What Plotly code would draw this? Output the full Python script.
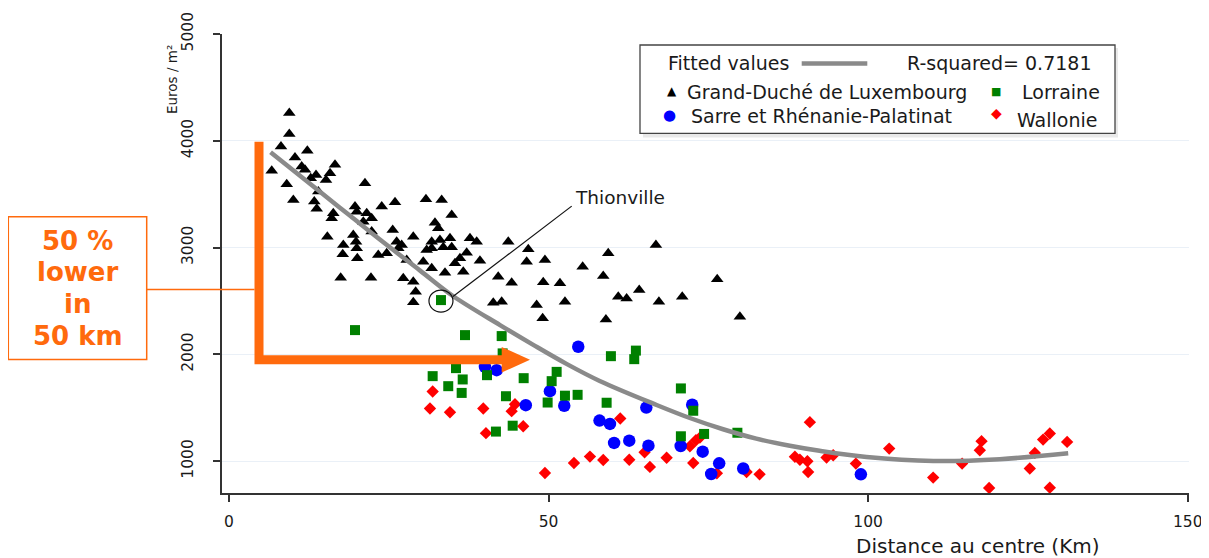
import plotly.graph_objects as go

# ---------------- data ----------------
# Grand-Duché de Luxembourg (black triangles)
lux_x = [9.43, 9.43, 8.13, 12.25, 10.32, 6.68, 11.37, 11.89, 16.58, 15.80,
         13.61, 12.78, 15.17, 9.03, 21.27, 13.97, 10.06, 13.34, 13.72, 19.71,
         23.89, 25.97, 16.31, 16.06, 19.98, 21.54, 22.32, 21.01, 15.38, 19.44,
         19.87, 25.61, 22.32, 26.23, 27.01, 28.83, 17.88, 17.79, 19.98, 20.07,
         23.35, 24.67, 26.48, 27.80, 17.47, 22.21, 27.26, 28.83, 29.20, 28.83,
         30.81, 33.27, 34.84, 32.22, 32.74, 31.71, 33.00, 34.57, 37.70, 38.75,
         30.92, 31.71, 33.52, 34.84, 43.69, 30.39, 37.18, 39.26, 36.13, 35.35,
         31.71, 33.79, 36.65, 42.12, 44.22, 41.34, 42.66,
         46.82, 46.57, 49.43, 55.33, 49.16, 51.78, 48.13, 52.56, 49.07, 59.33,
         66.79, 58.55, 76.38, 64.18, 60.90, 62.21, 67.26, 70.91, 58.97, 79.93]
lux_y = [4260, 4063, 3947, 3906, 3843, 3719, 3759, 3728, 3775, 3697,
         3681, 3650, 3634, 3594, 3603, 3525, 3447, 3431, 3363, 3384,
         3384, 3425, 3322, 3275, 3337, 3322, 3275, 3243, 3103, 3119,
         3056, 3166, 3150, 3056, 3025, 3103, 3025, 2938, 2994, 2900,
         2931, 2947, 2994, 2884, 2718, 2718, 2713, 2681, 2587, 2488,
         3453, 3447, 3306, 3234, 3182, 3056, 3072, 3088, 3088, 3056,
         2978, 2994, 3003, 3003, 3056, 2868, 2953, 2878, 2900, 2853,
         2807, 2765, 2775, 2728, 2672, 2484, 2493,
         2985, 2868, 2884, 2822, 2675, 2666, 2463, 2493, 2338, 2947,
         3025, 2734, 2703, 2603, 2540, 2525, 2493, 2540, 2328, 2353]

# Lorraine (green squares) - index 1 is Thionville
lor_x = [19.71, 33.16, 36.92, 42.66, 42.81, 31.86, 35.51, 34.30, 36.56, 36.40,
         40.36, 46.10, 51.26, 50.48, 43.33, 52.56, 54.54, 49.85, 44.38, 41.76,
         59.08, 59.75, 63.66, 63.40, 70.70, 72.63, 70.70, 74.33, 79.54]
lor_y = [2228, 2509, 2181, 2172, 2010, 1797, 1872, 1703, 1766, 1640,
         1806, 1778, 1837, 1750, 1609, 1614, 1622, 1550, 1333, 1278,
         1548, 1984, 2036, 1956, 1682, 1473, 1234, 1256, 1267]
thionville_index = 1

# Sarre et Rhénanie-Palatinat (blue circles)
sar_x = [54.64, 40.04, 41.87, 46.43, 50.21, 52.45, 57.97, 59.60, 65.29, 72.47,
         60.25, 62.62, 65.62, 70.67, 74.11, 76.69, 75.44, 80.45, 98.86]
sar_y = [2072, 1884, 1853, 1525, 1656, 1520, 1381, 1350, 1503, 1529,
         1172, 1193, 1146, 1143, 1090, 981, 881, 932, 878]

# Wallonie (red diamonds)
wal_x = [31.86, 31.44, 34.57, 39.78, 44.74, 44.22, 46.03, 40.20, 49.43, 53.97,
         56.47, 58.55, 61.21, 62.62, 65.02, 65.85, 68.47, 72.11, 73.05, 73.67,
         72.63, 76.33, 80.98, 83.01, 90.88, 88.54, 89.32, 90.49, 90.61, 93.49,
         94.53, 98.08, 103.29, 110.17, 114.70, 117.74, 117.47, 118.93, 125.29, 126.08,
         127.37, 128.42, 131.13, 128.42]
wal_y = [1653, 1494, 1459, 1494, 1534, 1469, 1328, 1263, 890, 984,
         1044, 1012, 1400, 1014, 1084, 947, 1033, 1141, 1197, 1222,
         984, 888, 900, 878, 1366, 1042, 1014, 1000, 900, 1035,
         1056, 978, 1119, 847, 978, 1188, 1103, 750, 932, 1078,
         1203, 1260, 1181, 753]

# Fitted values (grey curve)
fit_x = [6.5, 13.7, 18.9, 24.1, 29.9, 35.1, 42.4, 47.6, 52.8, 58.0,
         66.9, 72.1, 77.3, 82.5, 87.75, 92.4, 99.75, 110.2, 120.6, 131.3]
fit_y = [3894, 3548, 3300, 3052, 2785, 2545, 2275, 2090, 1912, 1752,
         1527, 1405, 1300, 1212, 1145, 1098, 1040, 1003, 1020, 1075]

x_ticks = [0, 50, 100, 150]
y_ticks = [1000, 2000, 3000, 4000, 5000]

series_names = ["Grand-Duché de Luxembourg", "Lorraine",
                "Sarre et Rhénanie-Palatinat", "Wallonie"]
fit_name = "Fitted values"
r2_text = "R-squared= 0.7181"
note_lines = ["50 %", "lower", "in", "50 km"]

# ---------------- layout geometry (screen pixels) ----------------
OFF = 8                      # default page margin around the figure
SL, ST, SR, SB = 222, 34, 1189, 492.7   # plot area on screen
FW, FH = 1201, 550           # figure size
PW, PH = SR - SL, SB - ST
X_RANGE = [-1.1, 150.2]
Y_RANGE = [703, 5000]
FONT = "DejaVu Sans"
ORANGE = "#FF6A0D"
TXT = "#1a1a1a"


def px(X):  # screen pixel x -> paper
    return (X - SL) / PW


def py(Y):  # screen pixel y -> paper
    return (SB - Y) / PH


def d2px_x(x):
    return SL + (x - X_RANGE[0]) / (X_RANGE[1] - X_RANGE[0]) * PW


def d2px_y(y):
    return SB - (y - Y_RANGE[0]) / (Y_RANGE[1] - Y_RANGE[0]) * PH


fig = go.Figure()

fig.add_trace(go.Scatter(x=lux_x, y=lux_y, mode="markers", name=series_names[0],
                         marker=dict(symbol="triangle-up", size=11, color="#000000",
                                     line=dict(width=0))))
fig.add_trace(go.Scatter(x=wal_x, y=wal_y, mode="markers", name=series_names[3],
                         marker=dict(symbol="diamond", size=9.5, color="#FF0000",
                                     line=dict(width=0))))
fig.add_trace(go.Scatter(x=sar_x, y=sar_y, mode="markers", name=series_names[2],
                         marker=dict(symbol="circle", size=12.5, color="#0000FF",
                                     line=dict(width=0))))
fig.add_trace(go.Scatter(x=lor_x, y=lor_y, mode="markers", name=series_names[1],
                         marker=dict(symbol="square", size=10, color="#008000",
                                     line=dict(width=0))))
fig.add_trace(go.Scatter(x=fit_x, y=fit_y, mode="lines", name=fit_name,
                         line=dict(color="#8a8a8a", width=4.5, shape="spline",
                                   smoothing=1.0)))

shapes = []
annotations = []

# ---- legend box ----
shapes.append(dict(type="rect", xref="paper", yref="paper",
                   x0=px(643), x1=px(1118), y0=py(48), y1=py(137.5),
                   line=dict(width=0), fillcolor="#e9e9e9", layer="above"))
shapes.append(dict(type="rect", xref="paper", yref="paper",
                   x0=px(640), x1=px(1115), y0=py(45), y1=py(133.3),
                   line=dict(color="#444444", width=1.3), fillcolor="white",
                   layer="above"))
shapes.append(dict(type="line", xref="paper", yref="paper",
                   x0=px(801.7), x1=px(867.3), y0=py(63.5), y1=py(63.5),
                   line=dict(color="#8a8a8a", width=4.5)))


def txt(text, X, Y, size, color=TXT, xanchor="left", bold=False, angle=0):
    annotations.append(dict(
        text=("<b>%s</b>" % text) if bold else text,
        xref="paper", yref="paper", x=px(X), y=py(Y),
        xanchor=xanchor, yanchor="middle", showarrow=False,
        textangle=angle,
        font=dict(family=FONT, size=size, color=color)))


LEG = 19
txt(fit_name, 666, 63.3, LEG)
txt(r2_text, 905, 63.3, LEG)
txt("\u25B2", 671.7, 91.0, 12, color="#000000", xanchor="center")
txt(series_names[0], 685, 91.7, LEG)
txt("\u25A0", 995.7, 91.0, 11, color="#008000", xanchor="center")
txt(series_names[1], 1020, 91.7, LEG)
txt("\u25CF", 669.3, 114.5, 15, color="#0000FF", xanchor="center")
txt(series_names[2], 689.3, 115.5, LEG)
txt("\u25C6", 996.7, 113.0, 14, color="#FF0000", xanchor="center")
txt(series_names[3], 1015, 120.0, LEG)

# ---- axis titles ----
txt("Euros / m\u00b2", 172, 80, 13.5, xanchor="center", angle=-90)
txt("Distance au centre (Km)", 977.5, 546, 20, xanchor="center")

# ---- Thionville callout ----
tx = d2px_x(lor_x[thionville_index])
ty = d2px_y(lor_y[thionville_index]) + 1
shapes.append(dict(type="circle", xref="paper", yref="paper",
                   x0=px(tx - 12), x1=px(tx + 12), y0=py(ty + 11), y1=py(ty - 11),
                   line=dict(color="#111111", width=1.2)))
shapes.append(dict(type="line", xref="paper", yref="paper",
                   x0=px(tx + 12), y0=py(ty - 4.5), x1=px(571.7), y1=py(206),
                   line=dict(color="#111111", width=1.2)))
txt("Thionville", 573, 197, 18.5)

# ---- orange L arrow ----
path = ("M {a},{b} L {c},{b} L {c},{d} L {e},{d} L {e},{f} L {g},{h} "
        "L {e},{i} L {e},{j} L {a},{j} Z").format(
    a=px(254.5), b=py(141.7), c=px(263.5), d=py(355), e=px(501.7),
    f=py(346.7), g=px(530), h=py(359.5), i=py(372.3), j=py(364))
shapes.append(dict(type="path", xref="paper", yref="paper", path=path,
                   fillcolor=ORANGE, line=dict(width=0), layer="above"))
# note box and connector
shapes.append(dict(type="rect", xref="paper", yref="paper",
                   x0=px(8.3), x1=px(146.7), y0=py(216.7), y1=py(359.3),
                   line=dict(color=ORANGE, width=1.5), fillcolor="white"))
shapes.append(dict(type="line", xref="paper", yref="paper",
                   x0=px(146.7), x1=px(254.5), y0=py(289.3), y1=py(289.3),
                   line=dict(color=ORANGE, width=1.5)))
for line_text, yc in zip(note_lines, [240.5, 272.2, 303.8, 335.5]):
    txt(line_text, 77.5, yc, 26, color=ORANGE, xanchor="center", bold=True)

fig.update_layout(
    width=FW, height=FH, autosize=False,
    margin=dict(l=SL - OFF, r=FW - (SR - OFF), t=ST - OFF, b=FH - (SB - OFF),
                pad=0, autoexpand=False),
    paper_bgcolor="white", plot_bgcolor="white",
    showlegend=False,
    font=dict(family=FONT, color=TXT),
    shapes=shapes, annotations=annotations,
    xaxis=dict(range=X_RANGE, tickvals=x_ticks, ticktext=[str(v) for v in x_ticks],
               automargin=False,
               showgrid=False, zeroline=False, showline=True,
               linecolor="#333333", linewidth=1.5,
               ticks="outside", ticklen=7, tickwidth=1.5, tickcolor="#333333",
               ticklabelstandoff=7,
               tickfont=dict(family=FONT, size=15.5, color=TXT),
               fixedrange=True),
    yaxis=dict(range=Y_RANGE, tickvals=y_ticks, ticktext=[str(v) for v in y_ticks],
               automargin=False,
               showgrid=True, gridcolor="#eaf0f7", gridwidth=1,
               zeroline=False, showline=True,
               linecolor="#333333", linewidth=1.5,
               ticks="outside", ticklen=7, tickwidth=1.5, tickcolor="#333333",
               tickangle=-90, ticklabelstandoff=14,
               tickfont=dict(family=FONT, size=15.5, color=TXT),
               fixedrange=True),
)

fig.write_html("out.html")
